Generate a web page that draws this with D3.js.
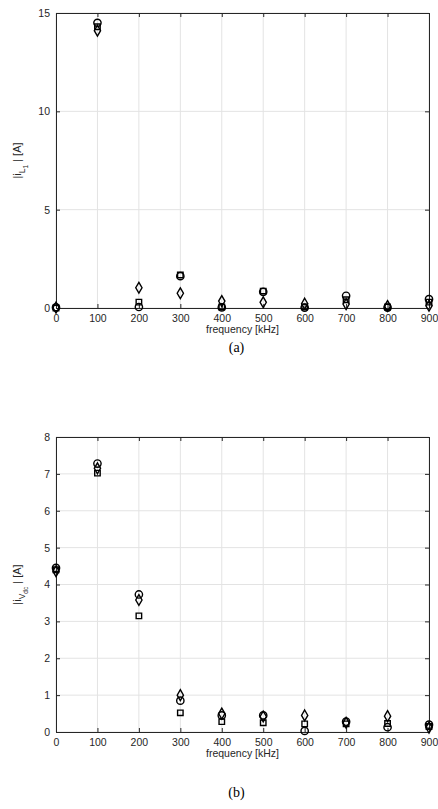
<!DOCTYPE html>
<html><head><meta charset="utf-8">
<script src="https://cdn.jsdelivr.net/npm/d3@7"></script>
<style>body{margin:0;background:#fff}svg{display:block}</style>
</head><body>
<script>
const freqs = [0,100,200,300,400,500,600,700,800,900];
const xTicks = [0,100,200,300,400,500,600,700,800,900];
// (a) |i_L1|
const aCircle  = [0.03,14.5,0.05,1.62,0.03,0.82,0.02,0.62,0.02,0.45];
const aSquare  = [0.0,14.3,0.3,1.68,0.05,0.86,0.06,0.42,0.05,0.3];
const aDiamond = [0.02,14.1,1.03,0.75,0.35,0.29,0.22,0.2,0.1,0.12];
const aYTicks = [0,5,10,15];
// (b) |i_Vdc|
const bCircle  = [4.45,7.28,3.73,0.85,0.45,0.45,0.03,0.28,0.13,0.2];
const bSquare  = [4.4,7.02,3.15,0.52,0.28,0.25,0.22,0.22,0.23,0.15];
const bDiamond = [4.36,7.15,3.58,1.0,0.5,0.42,0.45,0.25,0.43,0.12];
const bYTicks = [0,1,2,3,4,5,6,7,8];

const W=438,H=809;
const svg=d3.select("body").append("svg").attr("width",W).attr("height",H);

function panel(top, yMax, yTicks, series, labelFn, caption, captionY){
  const L=56,R=429,T=top,B=top+295;
  const x=d3.scaleLinear().domain([0,900]).range([L,R]);
  const y=d3.scaleLinear().domain([0,yMax]).range([B,T]);
  const g=svg.append("g");
  g.append("g").selectAll("line").data(xTicks).join("line")
    .attr("x1",d=>x(d)).attr("x2",d=>x(d)).attr("y1",T).attr("y2",B)
    .attr("stroke","#e3e3e3").attr("stroke-width",1);
  g.append("g").selectAll("line").data(yTicks).join("line")
    .attr("y1",d=>y(d)).attr("y2",d=>y(d)).attr("x1",L).attr("x2",R)
    .attr("stroke","#e3e3e3").attr("stroke-width",1);
  const ax=g.append("g").attr("transform",`translate(0,${B})`)
    .call(d3.axisBottom(x).tickValues(xTicks).tickSizeInner(-4).tickSizeOuter(0).tickPadding(7));
  const ay=g.append("g").attr("transform",`translate(${L},0)`)
    .call(d3.axisLeft(y).tickValues(yTicks).tickSizeInner(-4).tickSizeOuter(0).tickPadding(6));
  const axT=g.append("g").attr("transform",`translate(0,${T})`)
    .call(d3.axisTop(x).tickValues(xTicks).tickSizeInner(-4).tickSizeOuter(0).tickFormat(""));
  const ayR=g.append("g").attr("transform",`translate(${R},0)`)
    .call(d3.axisRight(y).tickValues(yTicks).tickSizeInner(-4).tickSizeOuter(0).tickFormat(""));
  [ax,ay,axT,ayR].forEach(a=>{
    a.selectAll("path").attr("stroke","#262626").attr("stroke-width",1);
    a.selectAll("line").attr("stroke","#262626");
    a.selectAll("text").attr("fill","#262626").style("font-family","Liberation Sans, Arial, sans-serif").style("font-size","10.5px");
  });
  const sym = {circle:d3.symbol().type(d3.symbolCircle).size(42),
               square:d3.symbol().type(d3.symbolSquare).size(30),
               diamond:d3.symbol().type(d3.symbolDiamond).size(34)};
  series.forEach(s=>{
    g.append("g").selectAll("path").data(s.vals).join("path")
      .attr("transform",(d,i)=>`translate(${x(freqs[i])},${y(d)})`)
      .attr("d",sym[s.type]).attr("fill","none").attr("stroke","#000").attr("stroke-width",1.4);
  });
  g.append("text").attr("x",(L+R)/2).attr("y",B+25).attr("text-anchor","middle")
    .style("font-family","Liberation Sans, Arial, sans-serif").style("font-size","10.5px").attr("fill","#262626")
    .text("frequency [kHz]");
  const yl=g.append("text").attr("transform",`translate(21,${(T+B)/2}) rotate(-90)`).attr("text-anchor","middle")
    .style("font-family","Liberation Sans, Arial, sans-serif").style("font-size","11px").attr("fill","#262626");
  labelFn(yl);
  svg.append("text").attr("x",(L+R)/2-6).attr("y",captionY).attr("text-anchor","middle")
    .style("font-family","Liberation Serif, Times New Roman, serif").style("font-size","14px").attr("fill","#000")
    .text(caption);
}

panel(13,15,aYTicks,[
  {type:"diamond",vals:aDiamond},{type:"square",vals:aSquare},{type:"circle",vals:aCircle}],
  t=>{t.append("tspan").text("|i");
      t.append("tspan").attr("dy",4).style("font-size","8.5px").text("L");
      t.append("tspan").attr("dy",3).style("font-size","6.5px").text("1");
      t.append("tspan").attr("dy",-7).text(" | [A]");},
  "(a)",352);

panel(437,8,bYTicks,[
  {type:"diamond",vals:bDiamond},{type:"square",vals:bSquare},{type:"circle",vals:bCircle}],
  t=>{t.append("tspan").text("|i");
      t.append("tspan").attr("dy",4).style("font-size","8.5px").text("V");
      t.append("tspan").attr("dy",3).style("font-size","6.5px").text("dc");
      t.append("tspan").attr("dy",-7).text(" | [A]");},
  "(b)",797);
</script>
</body></html>
